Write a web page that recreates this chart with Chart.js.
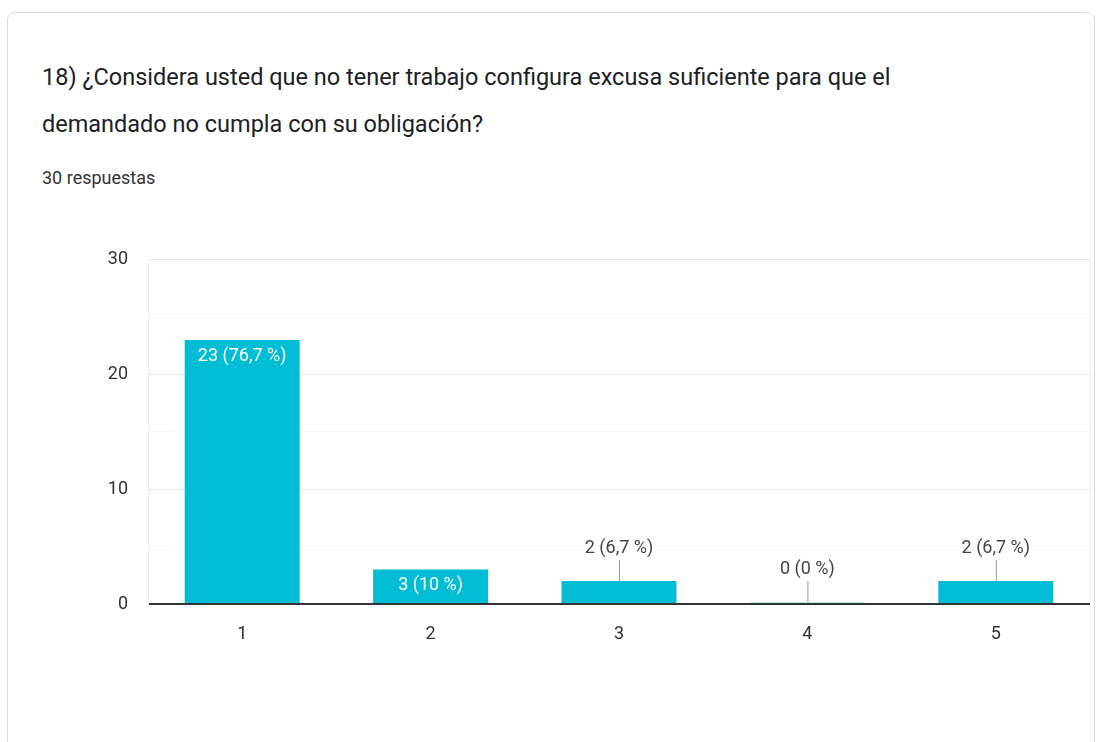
<!DOCTYPE html>
<html>
<head>
<meta charset="utf-8">
<script src="https://cdn.jsdelivr.net/npm/chart.js@4.4.0/dist/chart.umd.min.js"></script>
<style>
  body { margin: 0; background: #fff; font-family: Roboto, sans-serif; }
  #page { position: relative; width: 1100px; height: 742px; overflow: hidden; }
  .card { position: absolute; left: 7px; top: 12px; width: 1086px; height: 800px;
          border: 1px solid #dadce0; border-radius: 8px; }
  .title { position: absolute; left: 42px; top: 54px; font-size: 23.5px; line-height: 47px; color: #202124; white-space: nowrap; }
  .sub { position: absolute; left: 42px; top: 166px; font-size: 18px; line-height: 24px; color: #333; }
  #wrap { position: absolute; left: 0; top: 229px; width: 1100px; height: 431px; }
</style>
</head>
<body>
<div id="page">
  <div class="card"></div>
  <div class="title">18) ¿Considera usted que no tener trabajo configura excusa suficiente para que el<br>demandado no cumpla con su obligación?</div>
  <div class="sub">30 respuestas</div>
  <div id="wrap"><canvas id="chart"></canvas></div>
</div>
<script>
const categories = ['1', '2', '3', '4', '5'];
const counts = [23, 3, 2, 0, 2];
const percents = ['76,7', '10', '6,7', '0', '6,7'];
const totalAnswers = 30;

// etiquetas encima o dentro de las barras
const barLabels = {
  id: 'barLabels',
  afterDatasetsDraw(chart) {
    const ctx = chart.ctx;
    const meta = chart.getDatasetMeta(0);
    const area = chart.chartArea;
    ctx.save();
    // borde derecho del área
    ctx.strokeStyle = '#eeeeee';
    ctx.lineWidth = 1;
    ctx.beginPath();
    ctx.moveTo(area.right + 0.5, area.top);
    ctx.lineTo(area.right + 0.5, area.bottom);
    ctx.stroke();

    ctx.font = '18px Roboto';
    ctx.textAlign = 'center';
    ctx.textBaseline = 'middle';
    meta.data.forEach((bar, i) => {
      const text = counts[i] + ' (' + percents[i] + ' %)';
      const h = bar.base - bar.y;
      if (h > 30) {
        ctx.fillStyle = '#ffffff';
        ctx.fillText(text, bar.x, bar.y + 16);
      } else {
        ctx.strokeStyle = '#999999';
        ctx.beginPath();
        ctx.moveTo(bar.x + 0.5, bar.y);
        ctx.lineTo(bar.x + 0.5, bar.y - 21);
        ctx.stroke();
        ctx.fillStyle = '#444444';
        ctx.fillText(text, bar.x, bar.y - 33);
      }
    });
    ctx.restore();
  }
};

new Chart(document.getElementById('chart'), {
  type: 'bar',
  data: {
    labels: categories,
    datasets: [{
      data: counts,
      backgroundColor: (c) => counts[c.dataIndex] === 0 ? 'rgba(0,188,212,0.25)' : '#00bcd4',
      barPercentage: 0.61,
      categoryPercentage: 1,
      minBarLength: 2
    }]
  },
  options: {
    responsive: true,
    maintainAspectRatio: false,
    animation: false,
    layout: { padding: { left: 0, right: 10, top: 8, bottom: 0 } },
    plugins: { legend: { display: false }, tooltip: { enabled: false } },
    scales: {
      x: {
        grid: { display: false },
        border: { display: false },
        ticks: { color: '#333', font: { family: 'Roboto', size: 18 }, padding: 12 },
        afterFit: (s) => { s.height = 56; }
      },
      y: {
        min: 0,
        max: totalAnswers,
        border: { display: true, color: '#eeeeee' },
        grid: {
          drawTicks: false,
          color: (c) => c.tick.value === 0 ? '#333333' : (c.tick.value % 10 === 0 ? '#e6e6e6' : '#f4f4f4'),
          lineWidth: (c) => c.tick.value === 0 ? 2 : 1
        },
        ticks: {
          stepSize: 5,
          color: '#333',
          padding: 20,
          font: { family: 'Roboto', size: 18 },
          callback: (v) => v % 10 === 0 ? v : ''
        },
        afterFit: (s) => { s.width = 148; }
      }
    }
  },
  plugins: [barLabels]
});
</script>
</body>
</html>
